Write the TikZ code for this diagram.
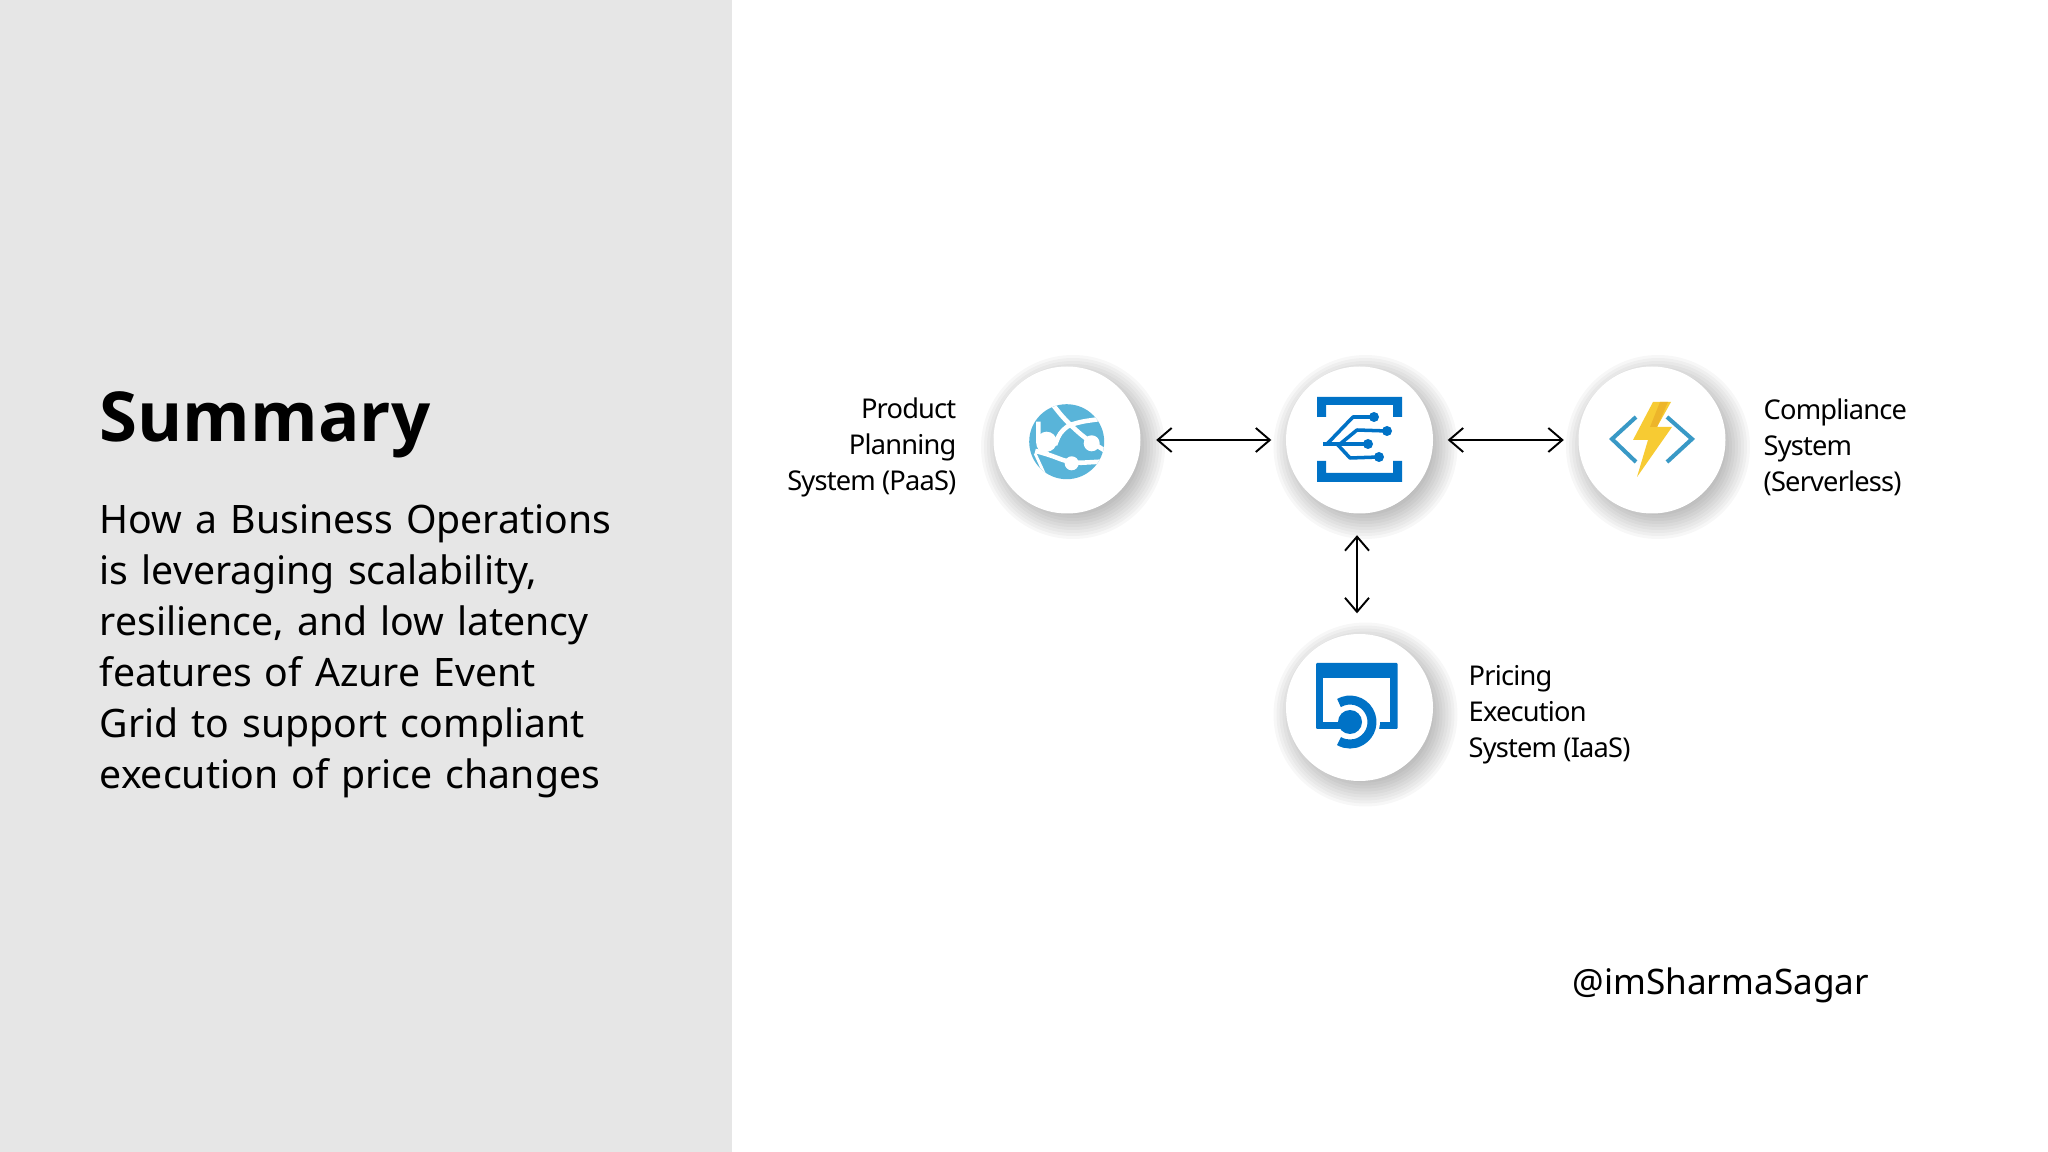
\documentclass[tikz,border=0pt]{standalone}
\usepackage{fontspec}
\setmainfont{Noto Sans}
\newfontfamily\titlefont{Open Sans}
\usepackage{xcolor}
\usetikzlibrary{arrows.meta, backgrounds}
\definecolor{panelgray}{HTML}{E6E6E6}
\definecolor{azureblue}{HTML}{0072C6}
\definecolor{globeblue}{HTML}{59B4D9}
\definecolor{chevronblue}{HTML}{3999C6}
\definecolor{boltyellow}{HTML}{F7CB33}
\definecolor{boltshade}{HTML}{EDB52A}
\tikzstyle{disc} = [circle, minimum size=1.47cm, inner sep=0pt, fill=white]
\tikzstyle{label} = [inner sep=0pt, font=\fontsize{7.75}{10.25}\selectfont\addfontfeature{LetterSpace=-3}]
\tikzstyle{arrow} = [line width=0.55pt, {Straight Barb[length=0.14cm,width=0.24cm]}-{Straight Barb[length=0.14cm,width=0.24cm]}]
\tikzstyle{gridline} = [azureblue, line width=1pt, line join=round]
\tikzstyle{globeline} = [white, line width=1.3pt, rounded corners=0.1cm]

\begin{document}
\begin{tikzpicture}[node distance = 2.925cm]
    \useasboundingbox (0,0) rectangle (20.48,-11.52);
    \fill [panelgray] (0,0) rectangle (7.32,-11.52);
    \node (title) [anchor=base west, inner sep=0pt, font=\fontsize{19.6}{24}\selectfont\titlefont\bfseries] at (0.99,-4.42) {Summary};
    \node (body) [anchor=north west, inner sep=0pt, align=left, text width=6.2cm, font=\fontsize{11.15}{14.5}\selectfont] at (0.99,-5.04) {How a Business Operations\\is leveraging scalability,\\resilience, and low latency\\features of Azure Event\\Grid to support compliant\\execution of price changes};
    \node (planning) [disc] at (10.67,-4.40) {};
    \node (grid) [disc, right of=planning] {};
    \node (compliance) [disc, right of=grid] {};
    \node (pricing) [disc, below of=grid, yshift=0.25cm] {};
    \begin{scope}[on background layer]
        \foreach \c in {planning,grid,compliance,pricing}
            \foreach \r in {0.62,0.65,...,0.92}
                \fill [black, opacity=0.03] ([xshift=0.06cm,yshift=-0.07cm]\c.center) circle (\r);
    \end{scope}
    \node (planninglabel) [label, anchor=east, align=right] at (9.57,-4.47) {Product\\Planning\\System (PaaS)};
    \node (compliancelabel) [label, anchor=west, align=left] at (17.63,-4.47) {Compliance\\System\\(Serverless)};
    \node (pricinglabel) [label, anchor=west, align=left] at (14.68,-7.15) {Pricing\\Execution\\System (IaaS)};
    \node (handle) [anchor=base west, inner sep=0pt, font=\fontsize{10}{12}\selectfont] at (15.72,-9.94) {@imSharmaSagar};
    \draw [arrow, shorten <=0.15cm, shorten >=0.14cm] (planning) -- (grid);
    \draw [arrow, shorten <=0.14cm, shorten >=0.14cm] (grid) -- (compliance);
    \draw [arrow, shorten <=0.21cm, shorten >=0.20cm] ([xshift=-0.025cm]grid.south) -- ([xshift=-0.025cm]pricing.north);
    % globe
    \fill [globeblue] (10.667,-4.417) circle (0.375);
    \begin{scope}
        \clip (10.667,-4.417) circle (0.375);
        \draw [globeline] (10.517,-4.033) -- (10.65,-4.20) -- (10.85,-4.383) -- (11.067,-4.517);
        \draw [globeline] (11.05,-4.183) -- (10.767,-4.223) -- (10.617,-4.283) -- (10.55,-4.45);
        \draw [globeline] (10.383,-4.217) -- (10.383,-4.517) -- (10.45,-4.533) -- (10.717,-4.633) -- (11.0,-4.617);
        \draw [globeline, line width=0.8pt] (10.35,-4.533) -- (10.45,-4.75);
        \fill [white] (10.467,-4.417) circle (0.10) (10.917,-4.433) circle (0.08) (10.717,-4.633) circle (0.07);
    \end{scope}
    % event grid
    \fill [azureblue] (13.17,-4.17) -- (13.17,-3.97) -- (14.02,-3.97) -- (14.02,-4.17) -- (13.93,-4.17) -- (13.93,-4.05) -- (13.26,-4.05) -- (13.26,-4.17) -- cycle;
    \fill [azureblue] (13.17,-4.61) -- (13.17,-4.82) -- (14.02,-4.82) -- (14.02,-4.61) -- (13.93,-4.61) -- (13.93,-4.73) -- (13.26,-4.73) -- (13.26,-4.61) -- cycle;
    \draw [gridline] (13.23,-4.44) -- (13.68,-4.44);
    \draw [gridline] (13.27,-4.44) -- (13.53,-4.17) -- (13.73,-4.17);
    \draw [gridline] (13.40,-4.44) -- (13.57,-4.30) -- (13.87,-4.31);
    \draw [gridline] (13.37,-4.44) -- (13.50,-4.58) -- (13.79,-4.57);
    \fill [azureblue] (13.74,-4.17) circle (0.05) (13.87,-4.31) circle (0.05) (13.68,-4.44) circle (0.05) (13.79,-4.57) circle (0.05);
    % function
    \fill [boltyellow] (16.53,-4.02) -- (16.71,-4.02) -- (16.57,-4.27) -- (16.72,-4.27) -- (16.37,-4.77) -- (16.48,-4.40) -- (16.33,-4.40) -- cycle;
    \fill [boltshade] (16.60,-4.02) -- (16.68,-4.02) -- (16.57,-4.27) -- (16.50,-4.27) -- cycle;
    \draw [chevronblue, line width=1.15pt] (16.36,-4.17) -- (16.12,-4.39) -- (16.36,-4.62);
    \draw [chevronblue, line width=1.15pt] (16.67,-4.17) -- (16.92,-4.39) -- (16.67,-4.62);
    % pricing
    \fill [azureblue, rounded corners=0.01cm] (13.16,-6.63) rectangle (13.977,-7.29);
    \fill [white] (13.23,-6.785) rectangle (13.90,-7.217);
    \fill [white] (13.50,-7.22) -- (13.35,-6.96) arc (120:-120:0.30) -- cycle;
    \draw [azureblue, line width=2.55pt] (13.39,-7.03) arc (120:-120:0.22);
    \fill [azureblue] (13.50,-7.22) circle (0.12);
\end{tikzpicture}
\end{document}
